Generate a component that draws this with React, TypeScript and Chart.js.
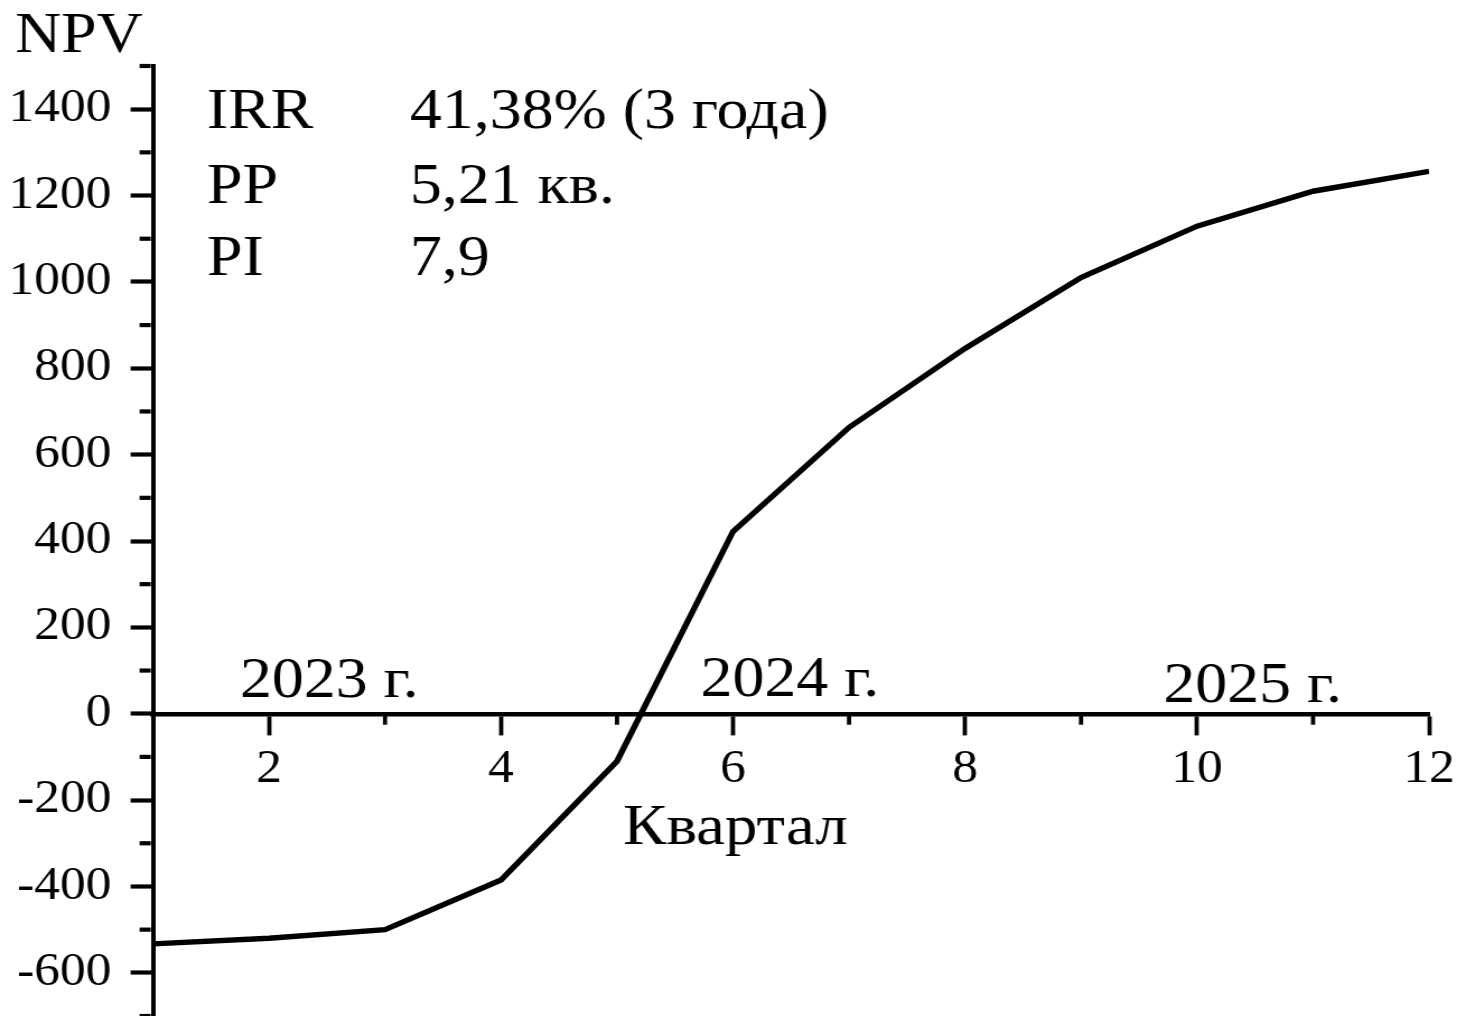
import React, { useEffect, useRef } from 'react';
import { Chart, registerables } from 'chart.js';

Chart.register(...registerables);

// ---------- data ----------
const quarters = [1, 2, 3, 4, 5, 6, 7, 8, 9, 10, 11, 12];
const npvValues = [-533, -520, -500, -385, -110, 422, 663, 846, 1010, 1129, 1210, 1256];

const yMin = -700;
const yMax = 1500;
const yStep = 100;
const yLabelStep = 200;
const xLabelStep = 2;

const metricNames = ['IRR', 'PP', 'PI'];
const metricValues = ['41,38% (3 года)', '5,21 кв.', '7,9'];
const yearLabels = ['2023 г.', '2024 г.', '2025 г.'];
const yearCenters = [2.52, 6.49, 10.48];
const yearRaise = [16.5, 17.5, 11.5];
const yTitle = 'NPV';
const xTitle = 'Квартал';

// ---------- layout ----------
const STRETCH = 1.12;
const PAGE_W = 1466;
const PAGE_H = 1016;
const CANVAS_W = Math.round(PAGE_W / STRETCH);
const FONT = '"Liberation Serif", "Times New Roman", serif';

const sx = (px: number) => px / STRETCH;

const decorPlugin = {
  id: 'decor',
  afterDraw(chart: any) {
    const { ctx, chartArea } = chart;
    const xs = chart.scales.x;
    const ys = chart.scales.y;
    const zeroY = ys.getPixelForValue(0);
    ctx.save();
    ctx.strokeStyle = '#000';
    ctx.lineCap = 'butt';
    // minor y ticks
    ctx.lineWidth = 4.2;
    for (let v = yMin; v <= yMax; v += yStep) {
      if (v % yLabelStep === 0) continue;
      const py = ys.getPixelForValue(v);
      ctx.beginPath();
      ctx.moveTo(chartArea.left - 2, py);
      ctx.lineTo(chartArea.left - 2 - 10, py);
      ctx.stroke();
    }
    // minor x ticks
    ctx.lineWidth = 3.8;
    quarters.forEach((q) => {
      if (q % xLabelStep !== 0 && q > quarters[0]) {
        const px = xs.getPixelForValue(q);
        ctx.beginPath();
        ctx.moveTo(px, zeroY + 2);
        ctx.lineTo(px, zeroY + 2 + 9);
        ctx.stroke();
      }
    });

    ctx.fillStyle = '#000';
    ctx.textBaseline = 'alphabetic';
    // y title
    ctx.textAlign = 'left';
    ctx.font = `57px ${FONT}`;
    ctx.fillText(yTitle, sx(15), 52);
    // metrics
    const baselines = [128, 203, 275];
    metricNames.forEach((n, i) => {
      ctx.fillText(n, sx(207), baselines[i]);
      ctx.fillText(metricValues[i], sx(410), baselines[i]);
    });
    // years
    ctx.textAlign = 'center';
    ctx.font = `57px ${FONT}`;
    yearLabels.forEach((t, i) => {
      ctx.fillText(t, xs.getPixelForValue(yearCenters[i]), zeroY - yearRaise[i]);
    });
    // x title
    ctx.font = `58px ${FONT}`;
    ctx.fillText(xTitle, xs.getPixelForValue(6.02), zeroY + 130.5);
    ctx.restore();
  },
};

export default function App() {
  const ref = useRef<HTMLCanvasElement>(null);

  useEffect(() => {
    if (!ref.current) return;
    const chart = new Chart(ref.current, {
      type: 'line',
      data: {
        datasets: [
          {
            data: quarters.map((q, i) => ({ x: q, y: npvValues[i] })),
            borderColor: '#000',
            borderWidth: 5.4,
            pointRadius: 0,
            tension: 0,
            fill: false,
          },
        ],
      },
      options: {
        responsive: false,
        animation: false,
        devicePixelRatio: 1,
        layout: {
          padding: { left: 0, right: CANVAS_W - sx(1430), top: 66, bottom: 0 },
        },
        plugins: {
          legend: { display: false },
          tooltip: { enabled: false },
          title: { display: false },
        },
        scales: {
          x: {
            type: 'linear',
            position: { y: 0 } as any,
            min: 1,
            max: 12,
            ticks: {
              stepSize: 1,
              autoSkip: false,
              maxRotation: 0,
              padding: 10,
              color: '#000',
              font: { family: FONT, size: 46 },
              callback: (v: any) => (Number(v) % xLabelStep === 0 ? String(v) : null),
            },
            grid: {
              drawOnChartArea: false,
              drawTicks: true,
              tickLength: 19,
              tickWidth: 3.8,
              color: (c: any) =>
                c.tick && c.tick.value % xLabelStep === 0 ? '#000' : 'rgba(0,0,0,0)',
            },
            border: { display: true, color: '#000', width: 4.4 },
          },
          y: {
            type: 'linear',
            position: 'left',
            min: yMin,
            max: yMax,
            afterFit: (scale: any) => {
              scale.width = sx(153);
              scale.paddingTop = 0;
              scale.paddingBottom = 0;
            },
            ticks: {
              stepSize: yStep,
              autoSkip: false,
              padding: 17,
              color: '#000',
              font: { family: FONT, size: 46 },
              callback: (v: any) => (Number(v) % yLabelStep === 0 ? String(v) : null),
            },
            grid: {
              drawOnChartArea: false,
              drawTicks: true,
              tickLength: 20,
              tickWidth: 4.2,
              color: (c: any) =>
                c.tick && c.tick.value % yLabelStep === 0 ? '#000' : 'rgba(0,0,0,0)',
            },
            border: { display: true, color: '#000', width: 4 },
          },
        },
      },
      plugins: [decorPlugin],
    } as any);
    return () => chart.destroy();
  }, []);

  return (
    <div
      style={{
        position: 'absolute',
        left: 0,
        top: 0,
        width: PAGE_W,
        height: PAGE_H,
        background: '#fff',
        overflow: 'hidden',
      }}
    >
      <canvas
        ref={ref}
        width={CANVAS_W}
        height={PAGE_H}
        style={{ width: PAGE_W + 'px', height: PAGE_H + 'px', display: 'block' }}
      />
    </div>
  );
}
